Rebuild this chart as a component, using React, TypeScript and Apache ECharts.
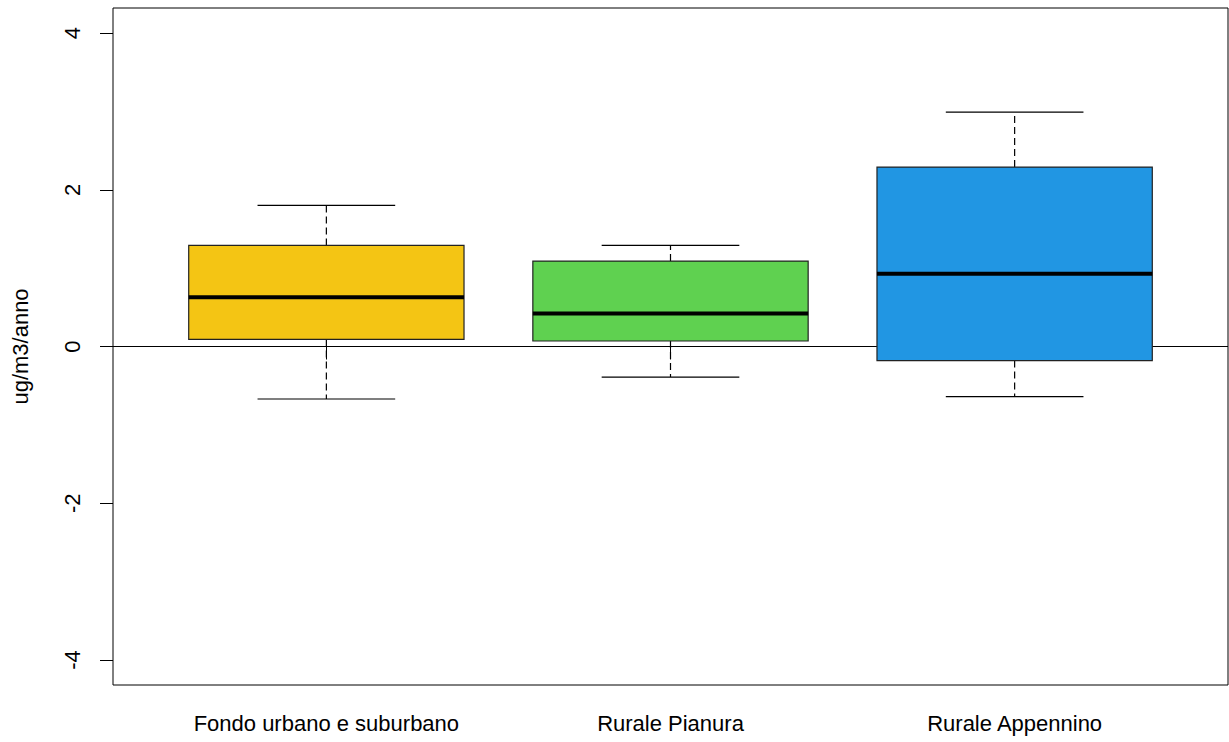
import React, { useEffect, useRef } from "react";
import * as echarts from "echarts";

const categories = ["Fondo urbano e suburbano", "Rurale Pianura", "Rurale Appennino"];
const lowerWhisker = [-0.67, -0.39, -0.64];
const q1 = [0.09, 0.07, -0.18];
const median = [0.63, 0.42, 0.93];
const q3 = [1.29, 1.09, 2.29];
const upperWhisker = [1.8, 1.29, 2.99];
const colors = ["#F4C514", "#5FD150", "#2196E3"];
const yTicks = [-4, -2, 0, 2, 4];
const xTicks = [1, 2, 3];

export default function App() {
  const ref = useRef<HTMLDivElement>(null);
  useEffect(() => {
    document.body.style.margin = "0";
    const chart = echarts.init(ref.current!, null, { renderer: "svg" });
    const data = categories.map((c, i) => [i + 1, lowerWhisker[i], q1[i], median[i], q3[i], upperWhisker[i]]);
    const font = "'Liberation Sans', Arial, sans-serif";
    chart.setOption({
      animation: false,
      backgroundColor: "#fff",
      grid: { left: 113, top: 8, width: 1115, height: 677, show: true, borderColor: "#000", borderWidth: 1, backgroundColor: "transparent" },
      xAxis: {
        type: "value",
        min: 0.38,
        max: 3.62,
        splitLine: { show: false },
        axisLine: { show: false },
        axisTick: { show: true, customValues: xTicks, length: 13, lineStyle: { color: "#000" } },
        axisLabel: {
          customValues: xTicks,
          formatter: (v: number) => categories[Math.round(v) - 1],
          color: "#000",
          fontSize: 22,
          fontFamily: font,
          margin: 27,
        },
      },
      yAxis: {
        type: "value",
        min: -4.32,
        max: 4.32,
        name: "ug/m3/anno",
        nameLocation: "middle",
        nameRotate: 90,
        nameGap: 82,
        nameTextStyle: { color: "#000", fontSize: 22, fontFamily: font },
        splitLine: { show: false },
        axisLine: { show: false },
        axisTick: { show: true, customValues: yTicks, length: 13, lineStyle: { color: "#000" } },
        axisLabel: {
          customValues: yTicks,
          rotate: 90,
          color: "#000",
          fontSize: 22,
          fontFamily: font,
          margin: 30,
        },
      },
      series: [
        {
          type: "custom",
          data,
          encode: { x: 0, y: [1, 2, 3, 4, 5] },
          renderItem: (params: any, api: any) => {
            const x = api.value(0);
            const i = params.dataIndex;
            const bw = api.size([0.8, 0])[0];
            const sw = api.size([0.4, 0])[0];
            const pLo = api.coord([x, api.value(1)]);
            const pQ1 = api.coord([x, api.value(2)]);
            const pMed = api.coord([x, api.value(3)]);
            const pQ3 = api.coord([x, api.value(4)]);
            const pHi = api.coord([x, api.value(5)]);
            const cx = pMed[0];
            const lineStyle = { stroke: "#000", lineWidth: 1.2 };
            const dashed = { stroke: "#000", lineWidth: 1.2, lineDash: [7, 4] };
            return {
              type: "group",
              children: [
                { type: "line", shape: { x1: cx, y1: pQ3[1], x2: cx, y2: pHi[1] }, style: dashed },
                { type: "line", shape: { x1: cx, y1: pQ1[1], x2: cx, y2: pLo[1] }, style: dashed },
                { type: "line", shape: { x1: cx - sw / 2, y1: pHi[1], x2: cx + sw / 2, y2: pHi[1] }, style: lineStyle },
                { type: "line", shape: { x1: cx - sw / 2, y1: pLo[1], x2: cx + sw / 2, y2: pLo[1] }, style: lineStyle },
                {
                  type: "rect",
                  shape: { x: cx - bw / 2, y: pQ3[1], width: bw, height: pQ1[1] - pQ3[1] },
                  style: { fill: colors[i], stroke: "#222", lineWidth: 1.2 },
                },
                { type: "line", shape: { x1: cx - bw / 2, y1: pMed[1], x2: cx + bw / 2, y2: pMed[1] }, style: { stroke: "#000", lineWidth: 4 } },
              ],
            };
          },
          markLine: {
            silent: true,
            symbol: "none",
            label: { show: false },
            lineStyle: { color: "#000", width: 1.2, type: "solid" },
            data: [{ yAxis: 0 }],
            z: 1,
          },
          z: 2,
        },
      ],
    });
    return () => chart.dispose();
  }, []);
  return <div ref={ref} style={{ width: 1229, height: 742 }} />;
}
